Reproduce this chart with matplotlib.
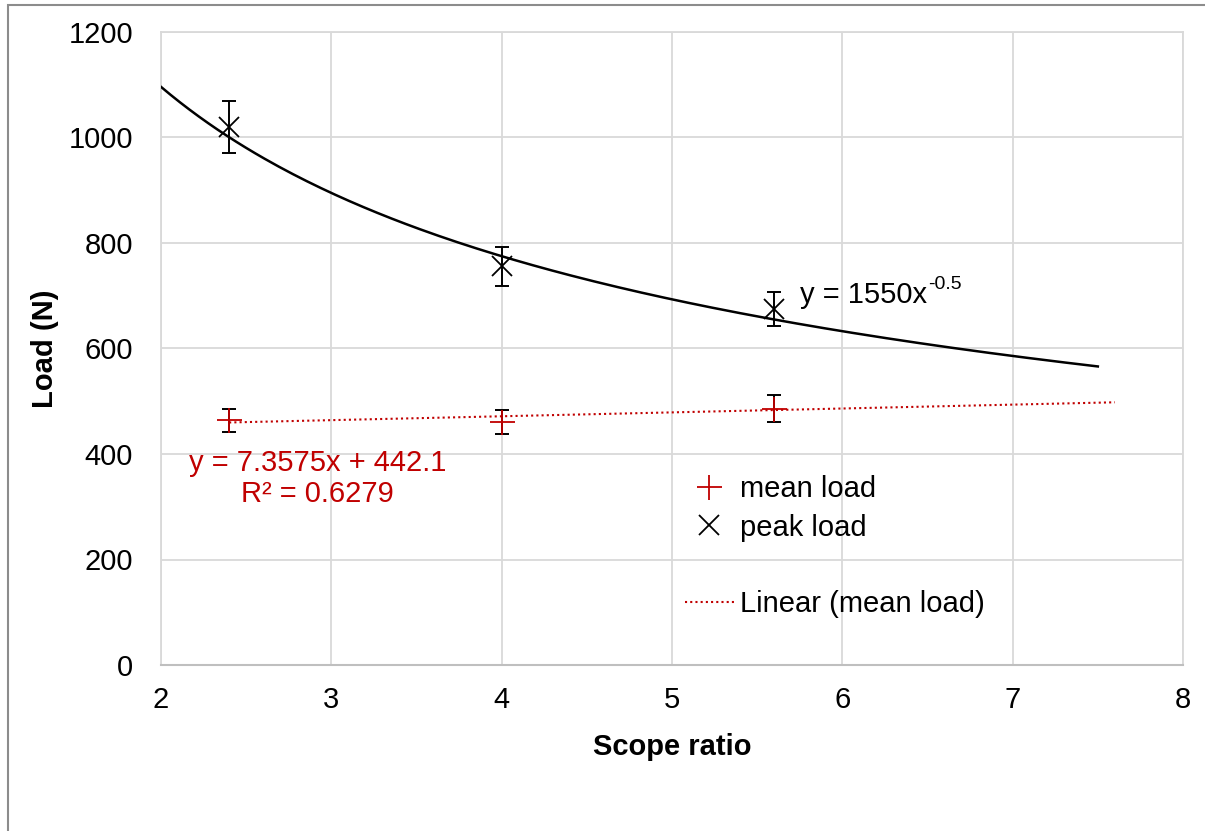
import matplotlib.pyplot as plt
from matplotlib.patches import Rectangle
import numpy as np

plt.rcParams["font.family"] = ["Liberation Sans", "DejaVu Sans"]

# scope ratio
scope = [2.4, 4.0, 5.6]

# mean load and error
mean_load = [464, 461, 486]
mean_err = [22, 23, 25]

# peak load and error
peak_load = [1020, 756, 675]
peak_err = [50, 37, 33]

# trendlines as reported on the chart
power_a, power_b = 1550, -0.5
power_range = (2.0, 7.5)
lin_m, lin_c = 7.3575, 442.1
lin_range = (2.4, 7.6)

red = "#C00000"
fs = 21

fig = plt.figure(figsize=(12.05, 8.31), dpi=100)
ax = fig.add_axes([161 / 1205, 1 - 665 / 831, (1183 - 161) / 1205, (665 - 32) / 831])

# grey outline of the chart area
fig.patches.append(Rectangle((8 / 1205, -0.1), 1.2, 1 - 5 / 831 + 0.1,
                             transform=fig.transFigure, fill=False,
                             edgecolor="#8c8c8c", linewidth=1.5))

xp = np.linspace(*power_range, 200)
ax.plot(xp, power_a * xp ** power_b, color="black", lw=1.8, zorder=3)

xl = np.array(lin_range)
ax.plot(xl, lin_m * xl + lin_c, color=red, lw=1.5, ls=(0, (1, 1.5)), zorder=3)

ax.errorbar(scope, mean_load, yerr=mean_err, fmt="none", ecolor="black",
            elinewidth=1.4, capsize=5, capthick=1.4, zorder=4)
ax.errorbar(scope, peak_load, yerr=peak_err, fmt="none", ecolor="black",
            elinewidth=1.4, capsize=5, capthick=1.4, zorder=4)
h_mean, = ax.plot(scope, mean_load, ls="none", marker="+", ms=18, mew=1.3,
                  color=red, zorder=5)
h_peak, = ax.plot(scope, peak_load, ls="none", marker="x", ms=15, mew=1.3,
                  color="black", zorder=5)

h_blank, = ax.plot([], [], ls="none")
h_lin, = ax.plot([], [], color=red, lw=1.5, ls=(0, (1, 1.5)))

ax.set_xlim(2, 8)
ax.set_ylim(0, 1200)
ax.set_xticks(range(2, 9))
ax.set_yticks(range(0, 1201, 200))
ax.grid(True, color="#d9d9d9", lw=1.3)
ax.set_axisbelow(True)
for s in ["top", "right", "left"]:
    ax.spines[s].set_color("#d9d9d9")
    ax.spines[s].set_linewidth(1.3)
ax.spines["bottom"].set_color("#bfbfbf")
ax.spines["bottom"].set_linewidth(1.5)
ax.tick_params(axis="x", length=0, labelsize=fs, pad=15)
ax.tick_params(axis="y", length=0, labelsize=fs, pad=20)

ax.set_xlabel("Scope ratio", fontsize=fs, fontweight="bold", labelpad=14)
ax.set_ylabel("Load (N)", fontsize=fs, fontweight="bold", labelpad=7)

# power trendline label, Excel-style superscript with a plain hyphen
t = ax.text(5.75, 702, "y = 1550x", fontsize=fs, va="center")
fig.canvas.draw()
bb = t.get_window_extent()
ax.annotate("-0.5", xy=(bb.x1, bb.y1), xycoords="figure pixels",
            xytext=(1, -9), textcoords="offset points",
            fontsize=14, va="bottom", ha="left")

ax.text(2.92, 354, "y = 7.3575x + 442.1\nR² = 0.6279", fontsize=fs, color=red,
        ha="center", va="center", linespacing=1.15)

ax.legend([h_mean, h_peak, h_blank, h_lin],
          ["mean load", "peak load", "", "Linear (mean load)"],
          loc="upper left", bbox_to_anchor=(0.501, 0.318), frameon=False,
          fontsize=fs, handlelength=1.7, handletextpad=0.2, labelspacing=0.35,
          borderaxespad=0)

fig.savefig("out.png", dpi=100)
